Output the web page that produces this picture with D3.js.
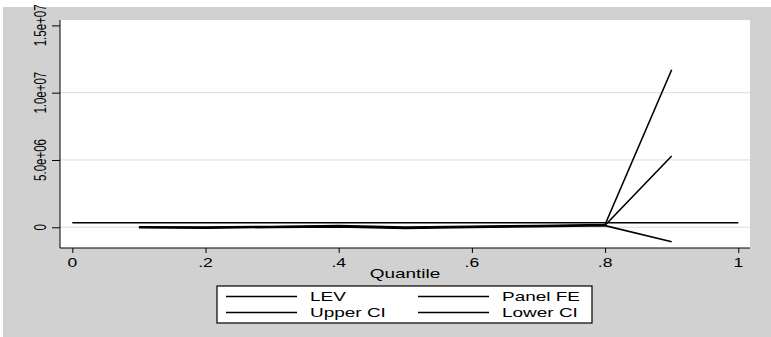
<!DOCTYPE html>
<html><head><meta charset="utf-8">
<script src="https://cdn.jsdelivr.net/npm/d3@7"></script>
<style>body{margin:0;background:#fff}svg{display:block}text{font-family:"Liberation Sans",Arial,sans-serif;fill:#000}</style>
</head><body>
<script>
const quantiles = [0.1,0.2,0.3,0.4,0.5,0.6,0.7,0.8,0.9];
const lev      = [0, -20000, 30000, 80000, -30000, 40000, 90000, 150000, 5300000];
const upperCI  = [30000, 20000, 60000, 120000, 20000, 80000, 130000, 200000, 11700000];
const lowerCI  = [-30000, -60000, -10000, 30000, -80000, -10000, 40000, 120000, -1070000];
const panelFEx = [0, 1];
const panelFE  = [340000, 340000];
const xTicks = [0,0.2,0.4,0.6,0.8,1];
const xTickLabels = ["0",".2",".4",".6",".8","1"];
const yTicks = [0,5000000,10000000,15000000];
const yTickLabels = ["0","5.0e+06","1.0e+07","1.5e+07"];
const legendLabels = ["LEV","Panel FE","Upper CI","Lower CI"];

const W=771,H=337, SX=1.46;
const svg=d3.select("body").append("svg").attr("width",W).attr("height",H);
svg.append("rect").attr("x",3).attr("y",7).attr("width",W-3).attr("height",H-7).attr("fill","#d1d1d1");
const L=60,R=750,T=20,B=248;
svg.append("rect").attr("x",L).attr("y",T).attr("width",R-L).attr("height",B-T).attr("fill","#fff");
const x=d3.scaleLinear().domain([-0.0185,1.0176]).range([L,R]);
const y=d3.scaleLinear().domain([-1540000,15400000]).range([B,T]);

function stext(px,py,str,size,anchor,extra){
  const t=svg.append("text").attr("transform",`translate(${px},${py}) scale(${SX},1)${extra||""}`)
    .attr("font-size",size).attr("text-anchor",anchor).attr("dy","0.36em").text(str);
  return t;
}

// gridlines
svg.append("g").selectAll("line").data(yTicks.slice(0,3)).join("line")
 .attr("x1",L).attr("x2",R).attr("y1",d=>y(d)).attr("y2",d=>y(d))
 .attr("stroke","#dcdcdc").attr("stroke-width",1);

// axes
const yAxis=d3.axisLeft(y).tickValues(yTicks).tickSize(8).tickFormat("");
const gy=svg.append("g").attr("transform",`translate(${L},0)`).call(yAxis);
gy.select(".domain").attr("d",`M0,${T}V${B}`).attr("stroke","#000");
gy.selectAll(".tick line").attr("stroke","#000");
yTicks.forEach((v,i)=>stext(40,y(v),yTickLabels[i],11.5,"middle"," rotate(-90)"));

const xAxis=d3.axisBottom(x).tickValues(xTicks).tickSize(5).tickFormat("");
const gx=svg.append("g").attr("transform",`translate(0,${B})`).call(xAxis);
gx.select(".domain").attr("d",`M${L},0H${R}`).attr("stroke","#000");
gx.selectAll(".tick line").attr("stroke","#000");
xTicks.forEach((v,i)=>stext(x(v),263,xTickLabels[i],12,"middle"));

stext(405,273,"Quantile",13,"middle");

const line=d3.line().x(d=>x(d[0])).y(d=>y(d[1]));
const series=[
  {xs:panelFEx, ys:panelFE},
  {xs:quantiles, ys:lowerCI},
  {xs:quantiles, ys:upperCI},
  {xs:quantiles, ys:lev}
];
series.forEach(s=>{
  svg.append("path").attr("d",line(s.xs.map((v,i)=>[v,s.ys[i]])))
   .attr("fill","none").attr("stroke","#000").attr("stroke-width",1.6);
});

// legend
svg.append("rect").attr("x",217).attr("y",286).attr("width",375).attr("height",37)
  .attr("fill","#fff").attr("stroke","#000").attr("stroke-width",1.2);
const pos=[[226,296.5],[418,296.5],[226,312.5],[418,312.5]];
legendLabels.forEach((lab,i)=>{
  const [lx,ly]=pos[i];
  svg.append("line").attr("x1",lx).attr("x2",lx+71).attr("y1",ly).attr("y2",ly).attr("stroke","#000").attr("stroke-width",1.5);
  stext(lx+84,ly,lab,13,"start");
});
</script>
</body></html>
